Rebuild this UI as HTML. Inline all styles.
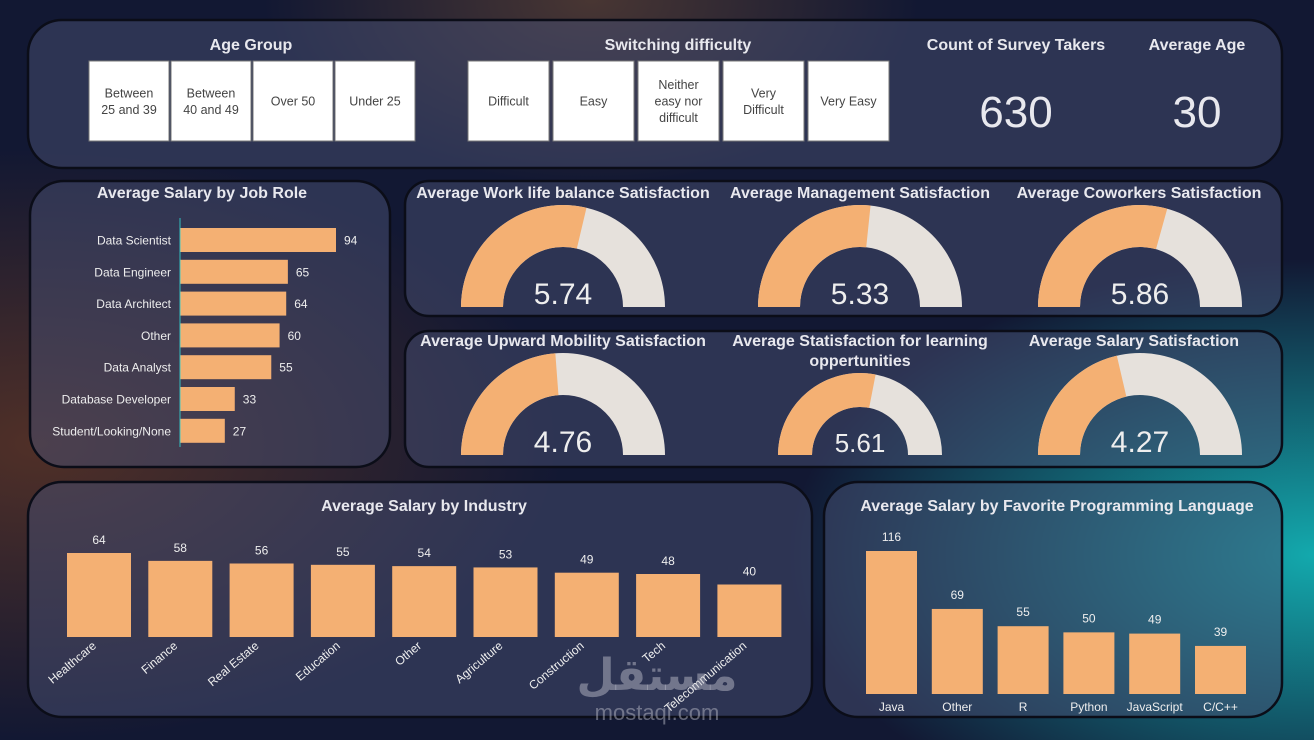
<!DOCTYPE html>
<html><head><meta charset="utf-8"><style>
html,body{margin:0;padding:0;width:1314px;height:740px;overflow:hidden}
body{background:#151a33;font-family:"Liberation Sans","DejaVu Sans",sans-serif}
svg{display:block}
</style></head><body>
<svg id="dash" width="1314" height="740" viewBox="0 0 1314 740" xmlns="http://www.w3.org/2000/svg">
<defs>
<radialGradient id="bgO" cx="0.03" cy="0.6" r="0.4"><stop offset="0" stop-color="#6b3a22" stop-opacity="0.7"/><stop offset="1" stop-color="#6b3a22" stop-opacity="0"/></radialGradient>
<radialGradient id="bgT" cx="1" cy="0.75" r="0.4"><stop offset="0" stop-color="#13a9ad"/><stop offset="1" stop-color="#13a9ad" stop-opacity="0"/></radialGradient>
<radialGradient id="bgO2" cx="0.45" cy="0" r="0.25"><stop offset="0" stop-color="#6d4a33" stop-opacity="0.6"/><stop offset="1" stop-color="#6d4a33" stop-opacity="0"/></radialGradient>
</defs>
<rect width="1314" height="740" fill="#121833"/>
<rect width="1314" height="740" fill="url(#bgO)"/>
<rect width="1314" height="740" fill="url(#bgT)"/>
<rect width="1314" height="740" fill="url(#bgO2)"/>
<g fill="rgba(72,80,115,0.5)" stroke="#0b0d18" stroke-width="2.5">
<rect x="28" y="20" width="1254" height="148" rx="34"/>
<rect x="30" y="181" width="360" height="286" rx="34"/>
<rect x="405" y="181" width="877" height="135" rx="24"/>
<rect x="405" y="331" width="877" height="136" rx="24"/>
<rect x="28" y="482" width="784" height="235" rx="34"/>
<rect x="824" y="482" width="458" height="235" rx="34"/>
</g>
<g font-weight="bold" fill="#e8e8ee" font-size="16" text-anchor="middle">
<text x="251" y="50">Age Group</text>
<text x="678" y="50">Switching difficulty</text>
<text x="1016" y="50">Count of Survey Takers</text>
<text x="1197" y="50">Average Age</text>
<text x="202" y="198">Average Salary by Job Role</text>
<text x="424" y="511">Average Salary by Industry</text>
<text x="1057" y="511">Average Salary by Favorite Programming Language</text>
</g>
<g font-size="44" fill="#e8e8ee" text-anchor="middle">
<text x="1016" y="127">630</text>
<text x="1197" y="127">30</text>
</g>
<g id="slicers"></g>
<g id="jobrole"></g>
<g id="gauges"></g>
<g id="industry"></g>
<g id="lang"></g>
<g fill="rgba(200,200,210,0.45)" text-anchor="middle">
<text x="657" y="690" font-size="44" font-weight="bold" font-family="'DejaVu Sans',sans-serif">مستقل</text>
<text x="657" y="720" font-size="22">mostaqi.com</text>
</g>
</svg>
<script>
const NS='http://www.w3.org/2000/svg';
function mk(t,a,p){const e=document.createElementNS(NS,t);for(const k in a)e.setAttribute(k,a[k]);p.appendChild(e);return e;}

const ageLabels=[["Between","25 and 39"],["Between","40 and 49"],["Over 50"],["Under 25"]];
const diffLabels=[["Difficult"],["Easy"],["Neither","easy nor","difficult"],["Very","Difficult"],["Very Easy"]];
const jobRoles=["Data Scientist","Data Engineer","Data Architect","Other","Data Analyst","Database Developer","Student/Looking/None"];
const jobSalary=[94,65,64,60,55,33,27];
const gaugeTitles=[["Average Work life balance Satisfaction"],["Average Management Satisfaction"],["Average Coworkers Satisfaction"],["Average Upward Mobility Satisfaction"],["Average Statisfaction for learning","oppertunities"],["Average Salary Satisfaction"]];
const gaugeValues=[5.74,5.33,5.86,4.76,5.61,4.27];
const gaugeMax=10;
const industries=["Healthcare","Finance","Real Estate","Education","Other","Agriculture","Construction","Tech","Telecommunication"];
const industrySalary=[64,58,56,55,54,53,49,48,40];
const languages=["Java","Other","R","Python","JavaScript","C/C++"];
const langSalary=[116,69,55,50,49,39];

const sl=document.getElementById('slicers');
function slicer(labels,x0,w,pitch,name){
 labels.forEach((l,i)=>{
  const x=x0+i*pitch;
  const r=mk('rect',{x:x,y:61,width:w,height:80,fill:'#ffffff',stroke:'#777',"stroke-width":1},sl);
  
  
  const t=mk('text',{x:x+w/2,"text-anchor":"middle","font-size":12.5,fill:'#444'},sl);
  
  
  const lh=16.5,y0=101-(l.length-1)*lh/2+4.5;
  l.forEach((s,j)=>{const ts=mk('tspan',{x:x+w/2,y:y0+j*lh},t);ts.textContent=s;});
 });
}
slicer(ageLabels,89,80,82,'age-group');
slicer(diffLabels,468,81,85,'switching-difficulty');

const jr=document.getElementById('jobrole');
const jx=v=>180+v*(156/94);
jobRoles.forEach((n,i)=>{
 const cy=240+i*31.8;
 const b=mk('rect',{x:180,y:cy-12,width:jx(jobSalary[i])-180,height:24,fill:'#f4b073'},jr);
 
 
 const t=mk('text',{x:171,y:cy+4.5,"text-anchor":"end","font-size":12,fill:'#eee'},jr);t.textContent=n;
 
 
 const v=mk('text',{x:jx(jobSalary[i])+8,y:cy+4.5,"font-size":12,fill:'#eee'},jr);v.textContent=jobSalary[i];
 
 
});
mk('line',{x1:180,y1:218,x2:180,y2:447,stroke:'#3cc',"stroke-width":1.5,opacity:0.6},jr);

const gg=document.getElementById('gauges');
const gpos=[[563,307,102,60],[860,307,102,60],[1140,307,102,60],[563,455,102,60],[860,455,82,48],[1140,455,102,60]];
const titleX=[563,860,1139,563,860,1134];
function arc(cx,cy,R,r,a0,a1){
 const p=(rad,a)=>[cx-rad*Math.cos(a),cy-rad*Math.sin(a)];
 const [x1,y1]=p(R,a0),[x2,y2]=p(R,a1),[x3,y3]=p(r,a1),[x4,y4]=p(r,a0);
 return `M${x1},${y1} A${R},${R} 0 0 1 ${x2},${y2} L${x3},${y3} A${r},${r} 0 0 0 ${x4},${y4}Z`;
}
gaugeValues.forEach((v,i)=>{
 const [cx,cy,R,r]=gpos[i];
 const a=Math.PI*v/gaugeMax;
 const bg=mk('path',{d:arc(cx,cy,R,r,0,Math.PI),fill:'#e6e1dc'},gg);
 
 
 const fg=mk('path',{d:arc(cx,cy,R,r,0,a),fill:'#f4b073'},gg);
 
 
 const vt=mk('text',{x:cx,y:cy-3,"text-anchor":"middle","font-size":R>90?30:26,fill:'#eee'},gg);vt.textContent=v.toFixed(2);
 
 
 const ty=i<3?198:346;
 const tt=mk('text',{"text-anchor":"middle","font-size":16,"font-weight":"bold",fill:'#e8e8ee'},gg);
 
 
 gaugeTitles[i].forEach((s,j)=>{const ts=mk('tspan',{x:titleX[i],y:ty+j*20},tt);ts.textContent=s;});
});

const ind=document.getElementById('industry');
const iBase=637,iScale=84/64;
industries.forEach((n,i)=>{
 const x=67+i*81.3,h=industrySalary[i]*iScale;
 const b=mk('rect',{x:x,y:iBase-h,width:64,height:h,fill:'#f4b073'},ind);
 
 
 const v=mk('text',{x:x+32,y:iBase-h-9,"text-anchor":"middle","font-size":12,fill:'#eee'},ind);v.textContent=industrySalary[i];
 
 
 const lx=x+30,ly=iBase+10;
 const l=mk('text',{x:lx,y:ly,"text-anchor":"end","font-size":12,fill:'#eee',transform:`rotate(-40 ${lx} ${ly})`},ind);l.textContent=n;
 
 
});

const lg=document.getElementById('lang');
const lBase=694,lScale=143/116;
languages.forEach((n,i)=>{
 const x=866+i*65.8,h=langSalary[i]*lScale;
 const b=mk('rect',{x:x,y:lBase-h,width:51,height:h,fill:'#f4b073'},lg);
 
 
 const v=mk('text',{x:x+25.5,y:lBase-h-10,"text-anchor":"middle","font-size":12,fill:'#eee'},lg);v.textContent=langSalary[i];
 
 
 const l=mk('text',{x:x+25.5,y:lBase+17,"text-anchor":"middle","font-size":12,fill:'#eee'},lg);l.textContent=n;
 
 
});
</script>
</body></html>
